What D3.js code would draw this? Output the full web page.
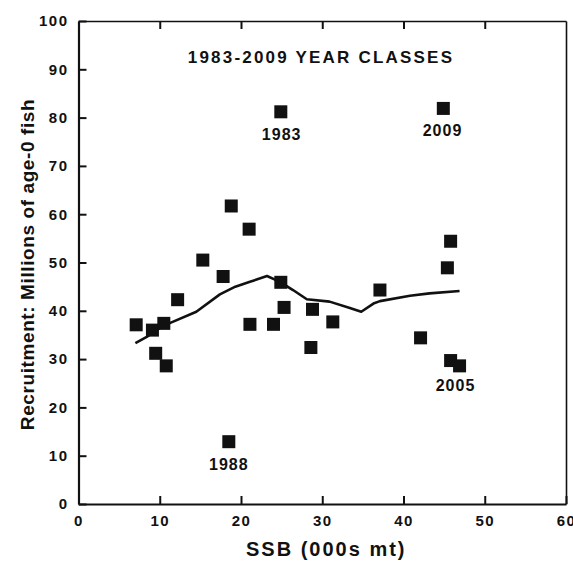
<!DOCTYPE html>
<html>
<head>
<meta charset="utf-8">
<script src="https://cdn.jsdelivr.net/npm/d3@7"></script>
<style>
  body { margin: 0; background: #fff; }
  text { font-family: "Liberation Sans", Arial, sans-serif; font-weight: bold; fill: #111; }
</style>
</head>
<body>
<script>
//Declare consts/global variables
    const width = 573;
    const height = 565;
    const margin = {top: 21, right: 7, bottom: 61, left: 78.5};

//Data
    // year class points: SSB (000s mt) and recruitment (millions of age-0 fish)
    const ssb = [7.1, 9.1, 9.5, 10.5, 10.8, 12.2, 15.3, 17.8, 18.5, 18.8, 21.0, 21.1, 24.0,
                 24.9, 24.9, 25.3, 28.6, 28.8, 31.3, 37.1, 42.1, 45.4, 45.8, 44.9, 45.8, 46.9];
    const recruits = [37.1, 36.0, 31.2, 37.4, 28.6, 42.3, 50.5, 47.1, 12.9, 61.7, 56.9, 37.2, 37.2,
                      45.9, 81.2, 40.7, 32.4, 40.3, 37.7, 44.3, 34.4, 48.9, 54.4, 81.9, 29.7, 28.6];

    // smoothed trend line
    const trendX = [7.0, 8.4, 10.0, 11.3, 14.5, 17.4, 19.3, 21.1, 23.2, 24.8, 26.4, 28.1,
                    30.9, 33.4, 34.8, 36.3, 37.1, 40.8, 43.2, 46.9];
    const trendY = [33.3, 34.6, 36.4, 37.5, 39.8, 43.4, 45.0, 46.0, 47.2, 46.0, 44.3, 42.4,
                    41.9, 40.6, 39.8, 41.5, 42.0, 43.1, 43.6, 44.1];

    // labelled year classes
    const labelText = ["1983", "2009", "1988", "2005"];
    const labelX = [25.0, 44.8, 18.5, 46.4];
    const labelY = [81.2, 81.9, 12.9, 29.2];

    const xTicks = [0, 10, 20, 30, 40, 50, 60];
    const yTicks = [0, 10, 20, 30, 40, 50, 60, 70, 80, 90, 100];

//Scales
    const xScale = d3.scaleLinear()
                    .domain([0, 60])
                    .range([margin.left, width - margin.right]);
    const yScale = d3.scaleLinear()
                    .domain([0, 100])
                    .range([height - margin.bottom, margin.top]);

//Adding svg
    const svg = d3.select("body")
        .append("svg")
        .attr("width", width)
        .attr("height", height);

//Axes
    const bottomAxis = d3.axisBottom(xScale)
                        .tickValues(xTicks)
                        .tickSize(-8)
                        .tickSizeOuter(0)
                        .tickPadding(11);
    const leftAxis = d3.axisLeft(yScale)
                        .tickValues(yTicks)
                        .tickSize(-8)
                        .tickSizeOuter(0)
                        .tickPadding(10);
    const topAxis = d3.axisTop(xScale)
                        .tickValues(xTicks.slice(1, -1))
                        .tickSize(-8)
                        .tickSizeOuter(0)
                        .tickFormat("");
    const rightAxis = d3.axisRight(yScale)
                        .tickValues([])
                        .tickSizeOuter(0);

    function styleAxis(g, w) {
        g.select(".domain").attr("stroke", "#111").attr("stroke-width", w);
        g.selectAll(".tick line").attr("stroke", "#111").attr("stroke-width", 2);
        g.selectAll(".tick text")
            .attr("font-size", 15)
            .attr("letter-spacing", 1.5)
            .attr("fill", "#111");
    }

    svg.append("g")
        .attr("transform", "translate(0," + yScale(0) + ")")
        .call(bottomAxis)
        .call(g => styleAxis(g, 2.2));
    svg.append("g")
        .attr("transform", "translate(" + xScale(0) + ",0)")
        .call(leftAxis)
        .call(g => styleAxis(g, 2.2));
    svg.append("g")
        .attr("transform", "translate(0," + yScale(100) + ")")
        .call(topAxis)
        .call(g => styleAxis(g, 1.6));
    svg.append("g")
        .attr("transform", "translate(" + xScale(60) + ",0)")
        .call(rightAxis)
        .call(g => styleAxis(g, 1.6));

//Trend line
    const line = d3.line()
                    .x((d, i) => xScale(trendX[i]))
                    .y((d, i) => yScale(trendY[i]));
    svg.append("path")
        .datum(trendX)
        .attr("fill", "none")
        .attr("stroke", "#111")
        .attr("stroke-width", 2.6)
        .attr("stroke-linejoin", "round")
        .attr("d", line);

//Squares
    const size = 13;
    svg.selectAll("rect.pt")
        .data(ssb)
        .join("rect")
        .attr("class", "pt")
        .attr("x", (d, i) => xScale(d) - size / 2)
        .attr("y", (d, i) => yScale(recruits[i]) - size / 2)
        .attr("width", size)
        .attr("height", size)
        .attr("fill", "#111");

//Year labels
    svg.selectAll("text.yr")
        .data(labelText)
        .join("text")
        .attr("class", "yr")
        .attr("x", (d, i) => xScale(labelX[i]))
        .attr("y", (d, i) => yScale(labelY[i]) + 28)
        .attr("text-anchor", "middle")
        .attr("font-size", 16)
        .attr("letter-spacing", 1)
        .text(d => d);

//Titles
    svg.append("text")
        .attr("x", 321)
        .attr("y", 63)
        .attr("text-anchor", "middle")
        .attr("font-size", 17)
        .attr("letter-spacing", 2.2)
        .text("1983-2009 YEAR CLASSES");

    svg.append("text")
        .attr("x", (xScale(0) + xScale(60)) / 2 + 4)
        .attr("y", 556)
        .attr("text-anchor", "middle")
        .attr("font-size", 20)
        .attr("letter-spacing", 2)
        .text("SSB (000s mt)");

    svg.append("text")
        .attr("transform", "translate(34," + ((yScale(0) + yScale(100)) / 2 + 2) + ") rotate(-90)")
        .attr("text-anchor", "middle")
        .attr("font-size", 19)
        .attr("letter-spacing", 0.6)
        .text("Recruitment: Millions of age-0 fish");
</script>
</body>
</html>
